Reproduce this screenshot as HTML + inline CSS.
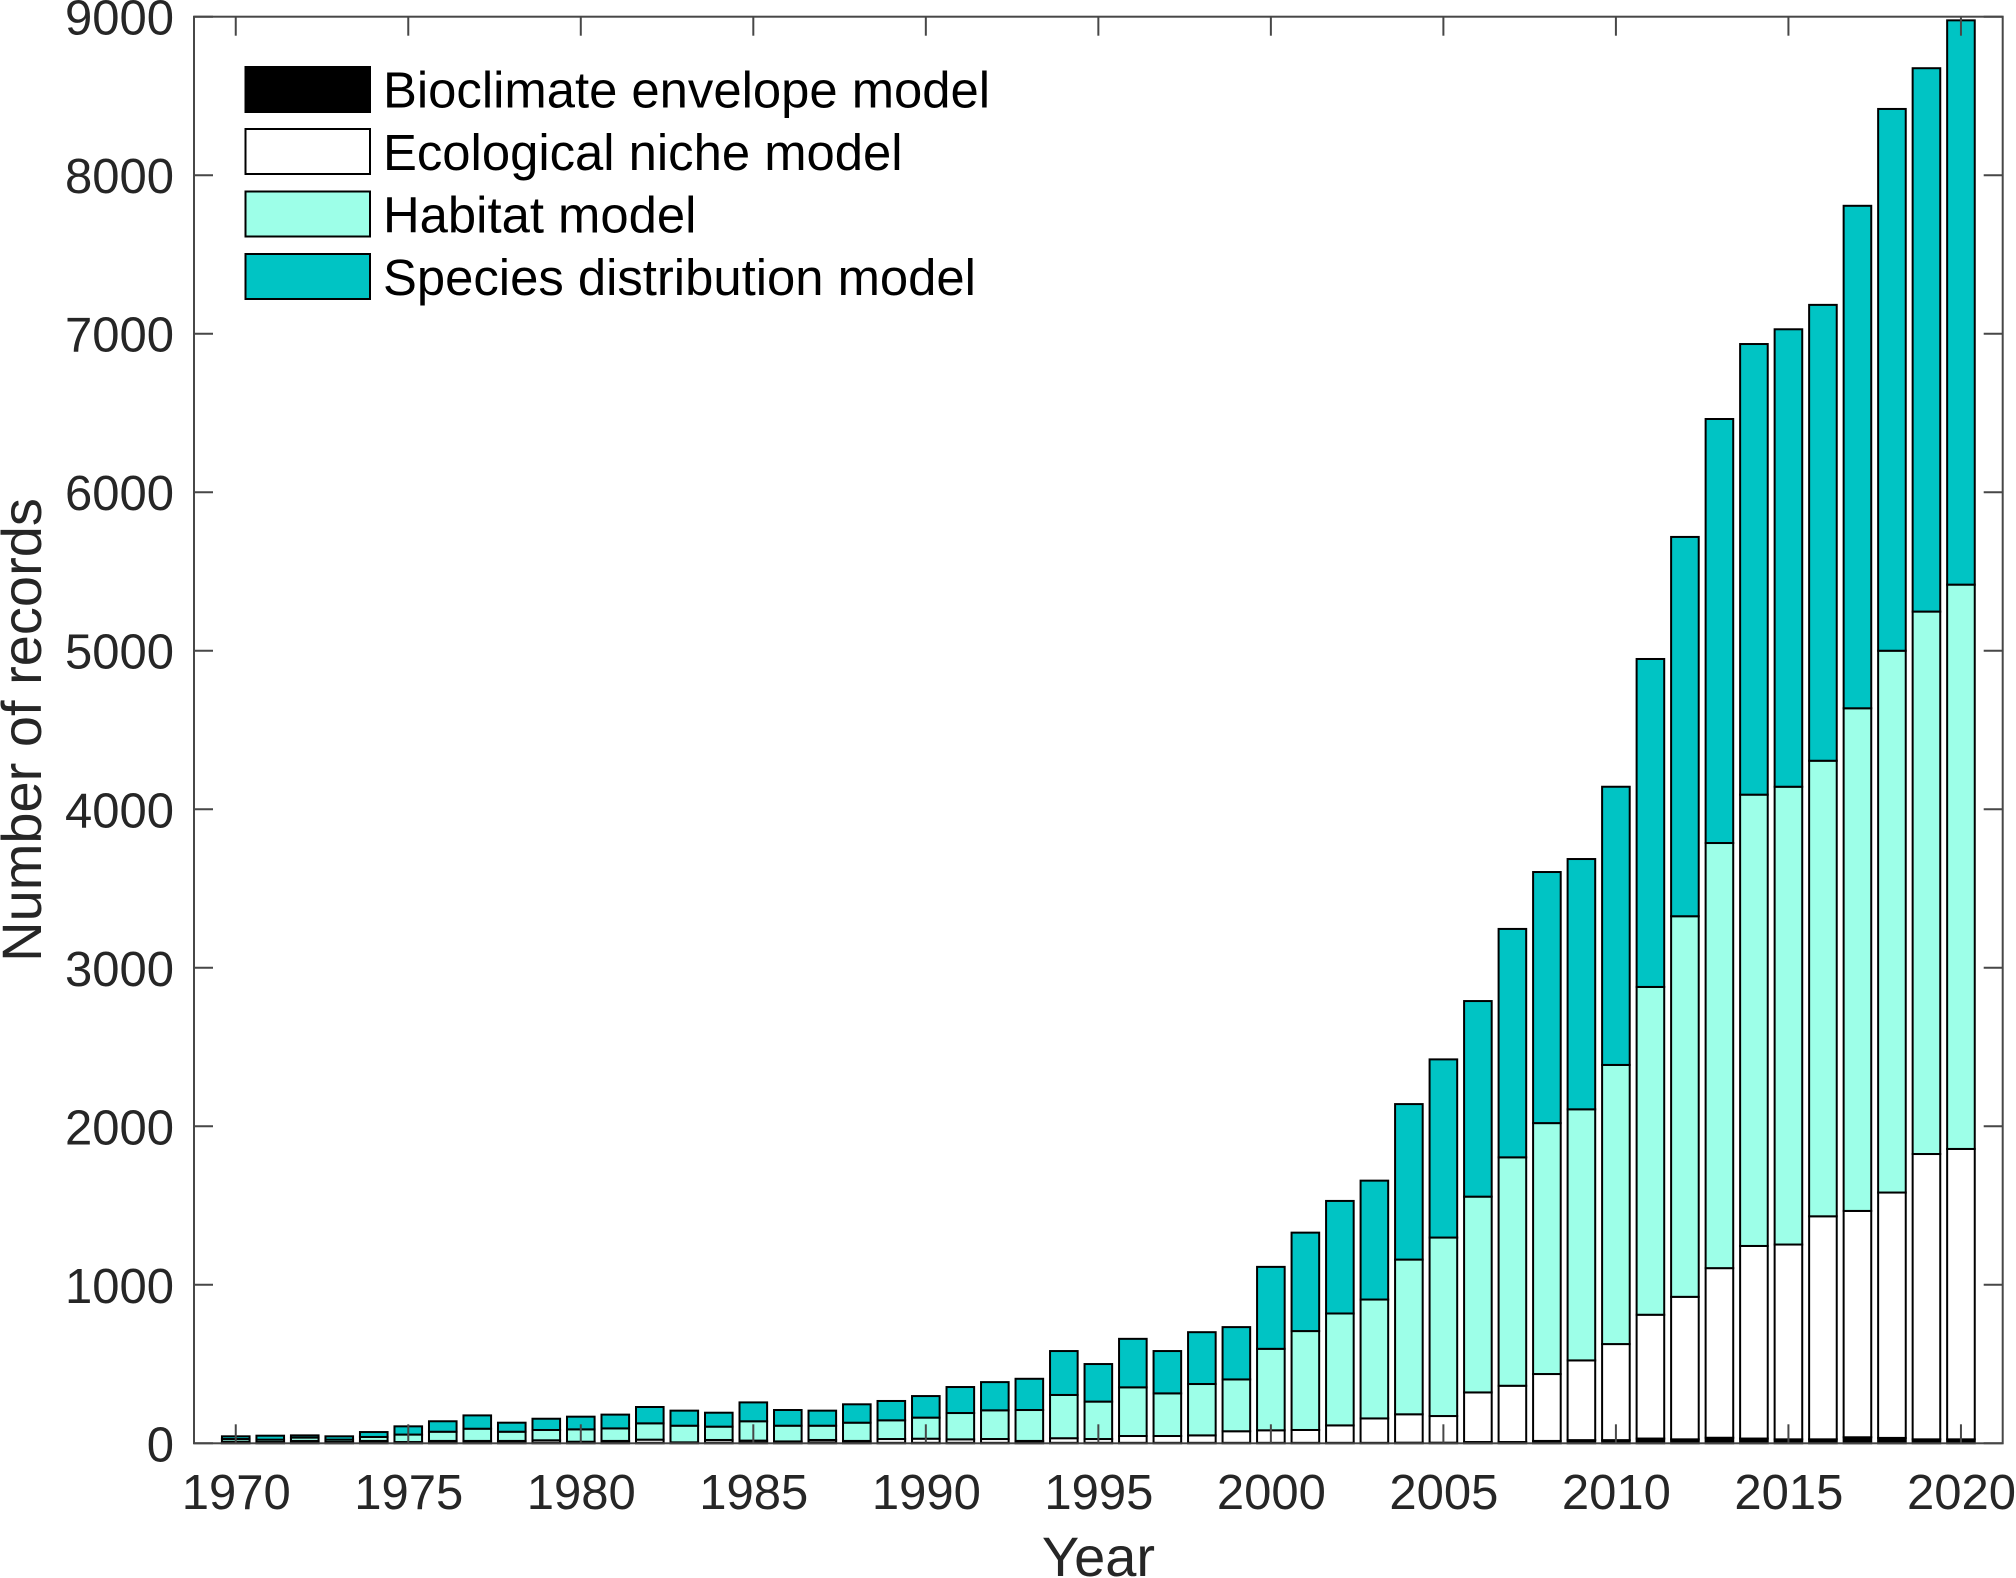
<!DOCTYPE html>
<html lang="en">
<head>
<meta charset="utf-8">
<title>Number of records by year</title>
<style>
  html, body { margin: 0; padding: 0; background: #fff; }
  #chart { display: block; width: 2016px; height: 1578px; font-family: "Liberation Sans", Arial, sans-serif; }
</style>
</head>
<body>
<svg id="chart" xmlns="http://www.w3.org/2000/svg" width="2016" height="1578" viewBox="0 0 2016 1578">
  <g id="bars"></g>
  <g id="axes"></g>
  <text x="1098.5" y="1576" font-size="56" text-anchor="middle" fill="#262626">Year</text>
  <text transform="translate(41 730) rotate(-90)" font-size="56" text-anchor="middle" fill="#262626">Number of records</text>
  <g>
    <g>
      <rect x="245.5" y="67" width="124.5" height="45" fill="#000" stroke="#000" stroke-width="2"/>
      <text x="383" y="107.5" font-size="50.8" fill="#000">Bioclimate envelope model</text>
    </g>
    <g>
      <rect x="245.5" y="129" width="124.5" height="45" fill="#fff" stroke="#000" stroke-width="2"/>
      <text x="383" y="170" font-size="50.8" fill="#000">Ecological niche model</text>
    </g>
    <g>
      <rect x="245.5" y="191.5" width="124.5" height="45" fill="#9dffe8" stroke="#000" stroke-width="2"/>
      <text x="383" y="232.5" font-size="50.8" fill="#000">Habitat model</text>
    </g>
    <g>
      <rect x="245.5" y="254" width="124.5" height="45" fill="#00c4c4" stroke="#000" stroke-width="2"/>
      <text x="383" y="295" font-size="50.8" fill="#000">Species distribution model</text>
    </g>
  </g>
</svg>
<script>
const years = [1970,1971,1972,1973,1974,1975,1976,1977,1978,1979,1980,1981,1982,1983,1984,1985,1986,1987,1988,1989,1990,1991,1992,1993,1994,1995,1996,1997,1998,1999,2000,2001,2002,2003,2004,2005,2006,2007,2008,2009,2010,2011,2012,2013,2014,2015,2016,2017,2018,2019,2020];
const bioclimate = [2,2,4,2,4,2,3,3,3,3,3,5,3,2,4,4,5,6,7,3,3,3,3,5,3,3,3,3,3,3,3,3,3,3,4,4,8,8,15,20,20,30,25,35,30,25,25,38,34,25,25];
const ecologicalNiche = [8,6,11,6,11,6,12,12,12,16,7,10,20,4,17,13,7,15,8,24,26,22,24,10,29,24,43,43,47,73,79,81,110,154,179,168,313,355,422,503,606,781,899,1070,1215,1229,1407,1428,1548,1800,1832];
const habitat = [17,15,21,15,25,47,58,77,58,65,78,79,103,105,84,122,99,90,115,118,133,166,181,195,273,236,307,269,324,327,514,624,706,750,976,1126,1235,1441,1583,1584,1761,2068,2401,2682,2847,2888,2874,3171,3418,3422,3560];
const speciesDistribution = [17,25,14,21,31,52,66,84,57,71,80,87,103,95,88,119,99,95,116,122,136,164,178,197,277,237,306,267,327,330,517,621,710,750,981,1124,1234,1441,1584,1579,1755,2069,2393,2675,2843,2886,2876,3170,3418,3428,3560];
const xTickLabels = [1970,1975,1980,1985,1990,1995,2000,2005,2010,2015,2020];
const yTickLabels = [0,1000,2000,3000,4000,5000,6000,7000,8000,9000];

const SVG_NS = 'http://www.w3.org/2000/svg';
const plotLeft = 194, plotRight = 2002.7, plotTop = 16.7, plotBottom = 1443.3;
const xMin = 1968.79, xMax = 2021.21, yMin = 0, yMax = 9000;
const barWidthFraction = 0.8;
const tickLength = 19;

function xScale(v) { return plotLeft + (v - xMin) / (xMax - xMin) * (plotRight - plotLeft); }
function yScale(v) { return plotBottom - (v - yMin) / (yMax - yMin) * (plotBottom - plotTop); }

function make(tag, attrs, parent) {
  const el = document.createElementNS(SVG_NS, tag);
  for (const k in attrs) el.setAttribute(k, attrs[k]);
  parent.appendChild(el);
  return el;
}

const barsGroup = document.getElementById('bars');
const axesGroup = document.getElementById('axes');
const yearStep = xScale(1) - xScale(0);
const barWidth = yearStep * barWidthFraction;

const seriesList = [
  { key: 'bioclimate', values: bioclimate, fill: '#000000' },
  { key: 'ecological-niche', values: ecologicalNiche, fill: '#ffffff' },
  { key: 'habitat', values: habitat, fill: '#9dffe8' },
  { key: 'species-distribution', values: speciesDistribution, fill: '#00c4c4' }
];

years.forEach(function (year, i) {
  let cumulative = 0;
  seriesList.forEach(function (series) {
    const value = series.values[i];
    const y0 = yScale(cumulative);
    const y1 = yScale(cumulative + value);
    const rect = make('rect', {
      x: xScale(year) - barWidth / 2,
      y: y1,
      width: barWidth,
      height: y0 - y1,
      fill: series.fill,
      stroke: '#000',
      'stroke-width': 2
    }, barsGroup);
    
    
    cumulative += value;
  });
});

const axisAttrs = { stroke: '#474747', 'stroke-width': 2, fill: 'none' };

const frame = make('rect', Object.assign({ x: plotLeft, y: plotTop, width: plotRight - plotLeft, height: plotBottom - plotTop }, axisAttrs), axesGroup);



xTickLabels.forEach(function (label) {
  const x = xScale(label);
  const bottomTick = make('line', Object.assign({ x1: x, x2: x, y1: plotBottom, y2: plotBottom - tickLength }, axisAttrs), axesGroup);
  
  
  const topTick = make('line', Object.assign({ x1: x, x2: x, y1: plotTop, y2: plotTop + tickLength }, axisAttrs), axesGroup);
  
  
  const text = make('text', { x: x + 0.5, y: 1509, 'font-size': 49, 'text-anchor': 'middle', fill: '#262626' }, axesGroup);
  
  
  text.textContent = String(label);
});

yTickLabels.forEach(function (label) {
  const y = yScale(label);
  const leftTick = make('line', Object.assign({ x1: plotLeft, x2: plotLeft + tickLength, y1: y, y2: y }, axisAttrs), axesGroup);
  
  
  const rightTick = make('line', Object.assign({ x1: plotRight, x2: plotRight - tickLength, y1: y, y2: y }, axisAttrs), axesGroup);
  
  
  const text = make('text', { x: 174, y: y + 18, 'font-size': 49, 'text-anchor': 'end', fill: '#262626' }, axesGroup);
  
  
  text.textContent = String(label);
});
</script>
</body>
</html>
